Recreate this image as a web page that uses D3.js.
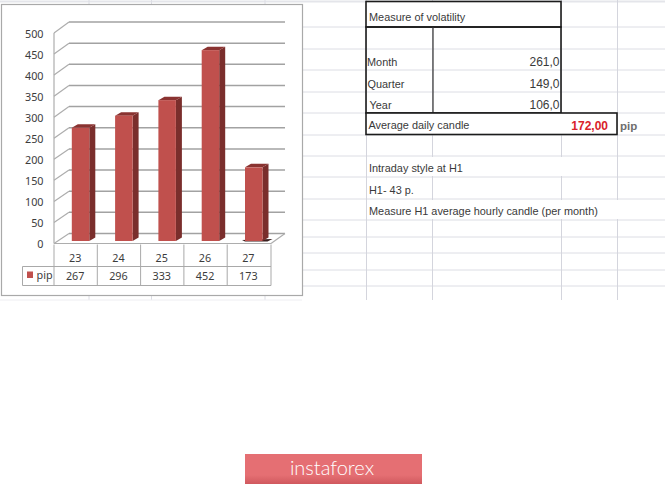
<!DOCTYPE html>
<html><head><meta charset="utf-8">
<style>html,body{margin:0;padding:0;background:#fff;overflow:hidden}svg{display:block}</style>
<script src="https://cdn.jsdelivr.net/npm/d3@7/dist/d3.min.js"></script></head>
<body><svg id="c" width="665" height="485"></svg>
<script>
const categories = ["23","24","25","26","27"];
const pipValues = [267,296,333,452,173];
const seriesName = "pip";
const yTicks = [0,50,100,150,200,250,300,350,400,450,500];
const volatilityTitle = "Measure of volatility";
const volatilityLabels = ["Month","Quarter","Year"];
const volatilityValues = ["261,0","149,0","106,0"];
const averageLabel = "Average daily candle";
const averageValue = "172,00";
const averageUnit = "pip";
const notes = ["Intraday style at H1","H1- 43 p.","Measure H1 average hourly candle (per month)"];
const brand = "instaforex";

const svg = d3.select("#c");
const line = (g,x1,y1,x2,y2,c,w)=>g.append("line").attr("x1",x1).attr("y1",y1).attr("x2",x2).attr("y2",y2).attr("stroke",c).attr("stroke-width",w);
const txt = (g,x,y,s,o={})=>g.append("text").attr("x",x).attr("y",y).attr("text-anchor",o.a||"start")
  .attr("font-family",o.f||"'Liberation Sans',Arial,sans-serif").attr("font-size",o.s||11)
  .attr("font-weight",o.w||400).attr("fill",o.c||"#333").text(s);

/* spreadsheet grid */
const sheet = svg.append("g");
[27,49,70,92,113,135,156,177,199,220,237,253,270,286].forEach(y=>line(sheet,303,y,665,y,"#dcdde4",1));
[1.5].forEach(y=>line(sheet,0,y,665,y,"#e4e5ea",2));
[89,151.5,265].forEach(x=>{line(sheet,x,0,x,4,"#dcdde4",1);line(sheet,x,296,x,300,"#dcdde4",1);});
[366.5,432.5,561.5,617.5].forEach(x=>line(sheet,x,0,x,300,"#d4d5dd",1));
line(sheet,0,300,302,300,"#eeeef2",1);

/* chart frame */
const chart = svg.append("g");
chart.append("rect").attr("x",1.5).attr("y",4.5).attr("width",301).attr("height",291).attr("fill","#fff").attr("stroke","#a9a9a9").attr("stroke-width",1.2);

const x = d3.scaleBand().domain(categories).range([54,270.5]);
const yFront = d3.scaleLinear().domain([0,500]).range([243.5,33]);
const yBack = d3.scaleLinear().domain([0,500]).range([233.5,22]);
const yBar = d3.scaleLinear().domain([0,500]).range([240,30]);
const backL = 69, backR = 285, frontL = 54, frontR = 271;
const gridC = "#a2a2a2";

yTicks.forEach(t=>{
  line(chart,frontL,yFront(t),backL,yBack(t),"#adadad",1.2);
  line(chart,backL,yBack(t),backR,yBack(t),gridC,1.5);
});
line(chart,frontL,yFront(0),frontL,yFront(500),"#adadad",1.2);
line(chart,frontL,yFront(0),frontR,yFront(0),"#adadad",1.2);
line(chart,frontR,yFront(0),backR,yBack(0),"#adadad",1.2);

/* y axis labels */
const tickFont = "'Noto Sans',sans-serif", tickSize = 10.8, tickColor = "#3c3c3c";
const axis = chart.append("g").attr("transform","translate(43.5,1)")
  .call(d3.axisLeft(yFront).tickValues(yTicks).tickSize(0).tickPadding(0));
axis.select(".domain").remove();
axis.selectAll("text").attr("font-family",tickFont).attr("font-size",tickSize).attr("fill",tickColor);

/* bars */
const barW = 17.5, barOff = 17.8, dx = 6, dy = 3.5;
const bars = chart.selectAll("g.b").data(categories.map((c,i)=>({c,v:pipValues[i]}))).join("g").attr("class","b");
bars.filter(d=>d.c==="27").append("path")
  .attr("d",d=>{const l=x(d.c)+barOff;const b=yBar(0);return `M${l-3},${b}L${l+barW+10},${b-1}L${l+barW+5},${b+1.5}L${l},${b+1.5}Z`;})
  .attr("fill","#3a2020");
bars.append("path").attr("fill","#7a2e2c")
  .attr("d",d=>{const l=x(d.c)+barOff+barW,t=yBar(d.v),b=yBar(0);return `M${l},${t}L${l+dx},${t-dy}L${l+dx},${b-dy+1}L${l},${b+1}Z`;});
bars.append("path").attr("fill","#8a3331")
  .attr("d",d=>{const l=x(d.c)+barOff,t=yBar(d.v);return `M${l},${t}L${l+dx},${t-dy}L${l+barW+dx},${t-dy}L${l+barW},${t}Z`;});
bars.append("rect").attr("fill","#c0504d")
  .attr("x",d=>x(d.c)+barOff).attr("width",barW)
  .attr("y",d=>yBar(d.v)).attr("height",d=>yBar(0)-yBar(d.v)+1);

/* data table */
const tc = "#a9a9a9", tTop = 244.5, tMid = 266.5, tBot = 285.5, tLeft = 22.5;
line(chart,tLeft,tMid,frontR,tMid,tc,1);
line(chart,tLeft,tBot,frontR,tBot,tc,1);
line(chart,tLeft,tMid,tLeft,tBot,tc,1);
categories.forEach((c,i)=>{
  const xx = x(c), cx = xx + x.bandwidth()/2 - 0.5;
  line(chart,xx,tTop,xx,tBot,tc,1);
  txt(chart,cx,262,c,{a:"middle",f:tickFont,s:tickSize,c:tickColor});
  txt(chart,cx,279.5,pipValues[i],{a:"middle",f:tickFont,s:tickSize,c:tickColor});
});
line(chart,frontR,tTop,frontR,tBot,tc,1);
chart.append("rect").attr("x",27).attr("y",271.5).attr("width",6).attr("height",6.5).attr("fill","#c0504d");
txt(chart,36.5,279,seriesName,{f:tickFont,s:tickSize,c:tickColor});

/* volatility table */
const tb = svg.append("g");
const bk = "#1c1c1c";
tb.append("rect").attr("x",366).attr("y",1.5).attr("width",195).attr("height",25.5).attr("fill","#fff").attr("stroke",bk).attr("stroke-width",1.6);
tb.append("rect").attr("x",366).attr("y",27).attr("width",195).attr("height",86).attr("fill","none").attr("stroke",bk).attr("stroke-width",1.6);
line(tb,433,27,433,113,"#333",1.2);
tb.append("rect").attr("x",366).attr("y",113).attr("width",251).attr("height",21.5).attr("fill","#fff").attr("stroke",bk).attr("stroke-width",1.6);
const fs = 10.9, tcol = "#3a3a3a";
txt(tb,369,21,volatilityTitle,{s:fs,c:tcol});
const rowY = [66,88,109], rowX = [367,367.5,369.5];
volatilityLabels.forEach((l,i)=>{
  txt(tb,rowX[i],rowY[i],l,{s:fs,c:tcol});
  txt(tb,559.5,rowY[i],volatilityValues[i],{a:"end",s:12,c:tcol});
});
txt(tb,368.5,129,averageLabel,{s:fs,c:tcol});
txt(tb,608,130,averageValue,{a:"end",s:12,w:700,c:"#d9222a"});
txt(tb,620,130,averageUnit,{s:11.5,w:700,c:"#6e6e6e"});
const noteY = [172,194,215];
notes.forEach((n,i)=>{
  sheet.append("rect").attr("x",367).attr("y",[157,0,200][i]).attr("width",i==2?298:250).attr("height",i==1?0:19).attr("fill","#fff");
  txt(tb,369,noteY[i],n,{s:fs,c:tcol});
});

/* watermark */
const grad = svg.append("defs").append("linearGradient").attr("id","wm").attr("x1",0).attr("y1",0).attr("x2",0).attr("y2",1);
grad.append("stop").attr("offset",0).attr("stop-color","#e56f73");
grad.append("stop").attr("offset",.7).attr("stop-color","#e56f73");
grad.append("stop").attr("offset",1).attr("stop-color","#d0595e");
svg.append("rect").attr("x",245).attr("y",454).attr("width",177).attr("height",30).attr("fill","url(#wm)");
txt(svg,332,475,brand,{a:"middle",f:"Lato,Roboto,sans-serif",s:20,w:300,c:"#fff"});
</script></body></html>
